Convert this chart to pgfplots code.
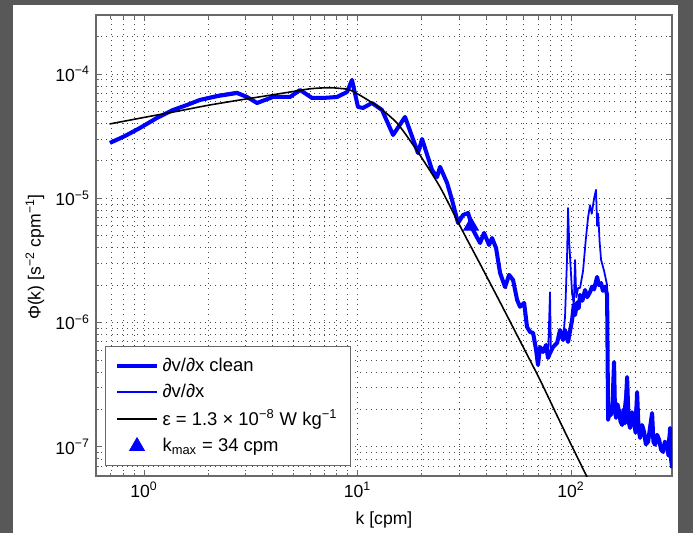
\documentclass[border=0pt]{standalone}
\usepackage{pgfplots}
\pgfplotsset{compat=1.18}
\usepackage{fontspec}
\setmainfont{Liberation Sans}
\definecolor{mblue}{RGB}{0,0,255}
\definecolor{framegray}{RGB}{88,88,88}
\definecolor{axgray}{RGB}{105,105,105}
\definecolor{gridgray}{RGB}{75,75,75}
\pgfplotsset{
  linelegend/.style={legend image code/.code={\draw[##1] (0cm,0cm) -- (0.8cm,0cm);}},
  blacklegend/.style={legend image code/.code={\draw[##1,line width=1.5pt] (0cm,0cm) -- (0.8cm,0cm);}},
  marklegend/.style={legend image code/.code={\draw[##1] plot coordinates {(0.4cm,0cm)};}},
}

% wavenumber spectrum, cleaned record
\pgfplotstableread{
k phi
0.693 2.79e-5
0.815 3.17e-5
0.958 3.68e-5
1.150 4.43e-5
1.367 5.13e-5
1.590 5.63e-5
1.829 6.18e-5
2.222 6.65e-5
2.727 7.03e-5
3.037 6.53e-5
3.383 5.84e-5
4.020 6.53e-5
4.829 6.53e-5
5.379 7.43e-5
6.123 6.41e-5
6.893 6.41e-5
8.017 6.53e-5
8.93 7.16e-5
9.42 8.95e-5
10.05 5.43e-5
10.61 5.33e-5
11.69 5.84e-5
13.02 5.13e-5
14.67 3.23e-5
16.69 4.51e-5
19.20 2.31e-5
20.05 3.00e-5
22.33 1.69e-5
23.57 1.48e-5
24.35 1.79e-5
26.26 1.33e-5
27.71 9.69e-6
29.56 6.33e-6
31.21 7.34e-6
32.94 7.61e-6
34.75 5.56e-6
37.49 4.37e-6
39.14 5.26e-6
41.30 4.21e-6
42.66 4.79e-6
44.54 3.98e-6
46.5 2.51e-6
49.1 1.93e-6
51.25 2.42e-6
53.5 2.20e-6
55.9 1.52e-6
57.7 1.34e-6
60.3 1.44e-6
62.2 9.22e-7
64.3 8.40e-7
66.4 8.25e-7
68.6 6.02e-7
70.0 4.56e-7
71.6 6.36e-7
73.9 5.80e-7
76.4 6.60e-7
78.0 5.19e-7
79.7 5.69e-7
82.4 6.36e-7
86.0 6.85e-7
88.8 8.72e-7
91.7 7.24e-7
93.7 8.72e-7
96.8 6.98e-7
101.1 1.05e-6
103.0 1.40e-6
104.4 1.15e-6
106.7 1.45e-6
108.5 1.30e-6
110.2 1.67e-6
113.0 1.50e-6
116.3 1.83e-6
119.0 1.60e-6
122.7 1.76e-6
125.5 1.95e-6
128.2 1.85e-6
132.4 2.33e-6
135.0 2.00e-6
138.2 2.08e-6
141.0 1.80e-6
144.3 1.95e-6
147.5 1.67e-6
149.1 1.65e-7
151.5 2.10e-7
154.0 1.81e-7
156.5 2.30e-7
159.0 4.82e-7
160.5 2.00e-7
162.5 1.71e-7
165.0 2.20e-7
167.8 1.91e-7
170.5 1.60e-7
173.4 1.50e-7
176.0 2.00e-7
179.0 1.55e-7
183.0 3.65e-7
186.0 1.60e-7
189.0 1.42e-7
193.0 1.90e-7
197.3 1.59e-7
200.5 1.30e-7
203.8 2.76e-7
207.0 1.40e-7
210.5 1.18e-7
215.0 1.50e-7
219.8 1.32e-7
224.0 1.05e-7
229.5 1.10e-7
234.0 1.40e-7
239.6 1.87e-7
243.0 1.10e-7
247.5 1.04e-7
253.0 1.25e-7
258.4 1.14e-7
264.0 0.95e-7
269.8 9.10e-8
275.0 1.10e-7
281.7 1.04e-7
286.0 8.50e-8
290.9 1.42e-7
294.0 8.00e-8
297.2 6.76e-8
}\clean

% raw record (differs only at high k)
\pgfplotstableread{
k phi
0.693 2.79e-5
0.958 3.68e-5
1.367 5.13e-5
1.829 6.28e-5
2.222 6.80e-5
2.727 7.20e-5
3.037 6.60e-5
3.383 5.90e-5
4.020 6.53e-5
4.829 6.53e-5
5.379 7.43e-5
6.123 6.41e-5
6.893 6.41e-5
8.017 6.53e-5
8.93 7.16e-5
9.42 8.95e-5
10.05 5.43e-5
10.61 5.33e-5
11.69 5.84e-5
13.02 5.13e-5
14.67 3.23e-5
16.69 4.51e-5
19.20 2.31e-5
20.05 3.00e-5
22.33 1.69e-5
23.57 1.48e-5
24.35 1.79e-5
26.26 1.33e-5
27.71 9.69e-6
29.56 6.33e-6
31.21 7.34e-6
32.94 7.61e-6
34.75 5.56e-6
37.49 4.37e-6
39.14 5.26e-6
41.30 4.21e-6
42.66 4.79e-6
44.54 3.98e-6
46.5 2.51e-6
49.1 1.93e-6
51.25 2.42e-6
53.5 2.20e-6
55.9 1.52e-6
57.7 1.34e-6
60.3 1.44e-6
62.2 9.22e-7
64.3 8.40e-7
66.4 8.25e-7
68.6 6.02e-7
70.0 4.56e-7
71.6 6.36e-7
73.9 5.80e-7
76.4 6.60e-7
78.0 5.19e-7
79.7 1.75e-6
80.5 5.69e-7
82.4 6.36e-7
86.0 6.85e-7
88.8 8.72e-7
91.7 7.24e-7
93.7 1.11e-6
95.7 3.19e-6
96.8 8.35e-6
97.9 4.62e-6
101.1 1.73e-6
103.0 1.40e-6
104.4 3.19e-6
105.8 1.60e-6
107.9 1.90e-6
110.2 1.90e-6
113.8 2.60e-6
117.0 4.50e-6
120.1 7.00e-6
122.7 8.80e-6
125.0 7.50e-6
128.2 1.00e-5
130.9 1.17e-5
132.4 6.00e-6
134.0 7.50e-6
136.0 4.50e-6
138.2 3.20e-6
142.8 2.60e-6
147.5 2.00e-6
149.1 1.65e-7
154.0 1.81e-7
159.0 4.82e-7
162.5 1.71e-7
167.8 1.91e-7
173.4 1.50e-7
183.0 3.65e-7
189.0 1.42e-7
197.3 1.59e-7
203.8 2.76e-7
210.5 1.18e-7
219.8 1.32e-7
229.5 1.10e-7
239.6 1.87e-7
247.5 1.04e-7
258.4 1.14e-7
269.8 9.10e-8
281.7 1.04e-7
290.9 1.42e-7
297.2 6.76e-8
}\raw

% fitted model spectrum
\pgfplotstableread{
k phi
0.69 3.96e-5
1.0 4.47e-5
1.37 4.94e-5
2.0 5.60e-5
2.82 6.18e-5
3.8 6.70e-5
4.83 7.16e-5
6.0 7.60e-5
7.3 7.75e-5
8.3 7.65e-5
9.22 7.43e-5
10.8 6.40e-5
12.7 5.32e-5
15.3 4.03e-5
18.2 2.69e-5
20.0 2.11e-5
24.35 1.23e-5
30.2 5.98e-6
37.5 2.96e-6
46.5 1.46e-6
57.7 7.11e-7
71.6 3.45e-7
88.8 1.59e-7
117.5 5.94e-8
137.4 3.40e-8
}\model

\begin{document}
\begin{tikzpicture}
\fill[white] (0,0) rectangle (13.86cm,10.66cm);
\fill[framegray] (0,0) rectangle (0.26cm,10.66cm);
\fill[framegray] (0,10.56cm) rectangle (13.86cm,10.66cm);
\fill[framegray] (13.56cm,0) rectangle (13.86cm,10.66cm);
\begin{axis}[
  at={(1.92cm,1.14cm)}, anchor=south west,
  scale only axis, width=11.52cm, height=9.22cm,
  xmode=log, ymode=log,
  xmin=0.596, xmax=297, ymin=5.83e-8, ymax=2.98e-4,
  xtick={1,10,100},
  xticklabels={10\textsuperscript{0},10\textsuperscript{1},10\textsuperscript{2}},
  ytick={1e-7,1e-6,1e-5,1e-4},
  yticklabels={10\textsuperscript{−7},10\textsuperscript{−6},10\textsuperscript{−5},10\textsuperscript{−4}},
  minor xtick={0.7,0.8,0.9,2,3,4,5,6,7,8,9,20,30,40,50,60,70,80,90,200},
  minor ytick={7e-8,8e-8,9e-8,2e-7,3e-7,4e-7,5e-7,6e-7,7e-7,8e-7,9e-7,2e-6,3e-6,4e-6,5e-6,6e-6,7e-6,8e-6,9e-6,2e-5,3e-5,4e-5,5e-5,6e-5,7e-5,8e-5,9e-5,2e-4},
  grid=both,
  major grid style={gridgray, dash pattern=on 0.55pt off 2.4pt, line width=0.45pt},
  minor grid style={gridgray, dash pattern=on 0.55pt off 2.4pt, line width=0.45pt},
  axis line style={axgray, line width=0.6pt},
  tick style={axgray, line width=0.5pt},
  major tick length=0.12cm, minor tick length=0.07cm,
  tick label style={font=\fontsize{10}{12}\selectfont},
  label style={font=\fontsize{10}{12}\selectfont},
  xlabel={k [cpm]},
  ylabel={Φ(k) [s\textsuperscript{−2} cpm\textsuperscript{−1}]},
  every axis x label/.style={at={(axis description cs:0.5,-0.095)}, anchor=center},
  every axis y label/.style={at={(axis description cs:-0.106,0.475)}, rotate=90, anchor=center},
  legend cell align=left,
  legend style={at={(axis description cs:0.0156,0.0217)}, anchor=south west,
    draw=axgray, fill=white, inner xsep=5.5pt, inner ysep=4.5pt, row sep=1.6pt,
    font=\fontsize{10.5}{12.6}\selectfont,
    /tikz/every even column/.append style={column sep=3pt}},
]
\addplot[mblue, line width=2.3pt, line join=round, no markers, linelegend]
  table[x=k,y=phi] {\clean};
\addlegendentry{∂v/∂x clean}
\addplot[mblue, line width=1.0pt, line join=round, no markers, linelegend]
  table[x=k,y=phi] {\raw};
\addlegendentry{∂v/∂x}
\addplot[black, line width=0.9pt, no markers, smooth, blacklegend]
  table[x=k,y=phi] {\model};
\addlegendentry{ε = 1.3 × 10\textsuperscript{−8} W kg\textsuperscript{−1}}
\addplot[only marks, mark=triangle*, mark size=4.9pt, color=mblue, marklegend]
  coordinates {(34,6.0e-6)};
\addlegendentry{k\textsubscript{max} = 34 cpm}
\end{axis}
\pgfresetboundingbox
\path[use as bounding box] (0,0) rectangle (13.86cm,10.66cm);
\end{tikzpicture}
\end{document}
